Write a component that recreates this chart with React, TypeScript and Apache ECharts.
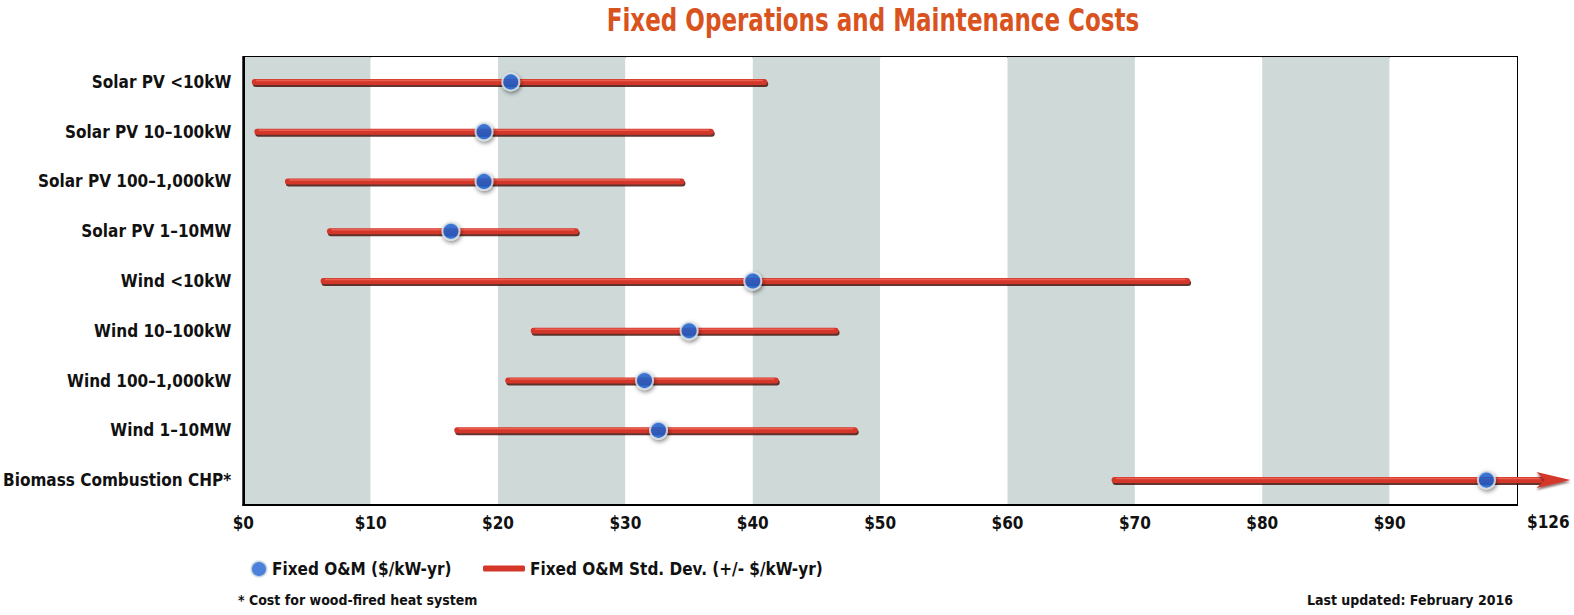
import React, { useEffect, useRef } from "react";
import * as echarts from "echarts";

const categories = [
  "Solar PV <10kW",
  "Solar PV 10–100kW",
  "Solar PV 100–1,000kW",
  "Solar PV 1–10MW",
  "Wind <10kW",
  "Wind 10–100kW",
  "Wind 100–1,000kW",
  "Wind 1–10MW",
  "Biomass Combustion CHP*",
];
const meanValues = [21.0, 18.9, 18.9, 16.3, 40.0, 35.0, 31.5, 32.6, 97.6];
const lowValues = [0.9, 1.1, 3.5, 6.8, 6.3, 22.8, 20.8, 16.8, 68.4];
const highValues = [40.9, 36.7, 34.4, 26.1, 74.1, 46.5, 41.8, 48.0, 104.2];
const arrowFlags = [0, 0, 0, 0, 0, 0, 0, 0, 1];
const xTicks = [0, 10, 20, 30, 40, 50, 60, 70, 80, 90];
const breakLabel = "$126";

const FONT = "'DejaVu Sans Condensed', 'DejaVu Sans', sans-serif";
const RED = "#d4372a";
const BLUE = "#1f62d2";

export default function App() {
  const ref = useRef<HTMLDivElement>(null);
  useEffect(() => {
    if (!ref.current) return;
    const chart = echarts.init(ref.current, null, { renderer: "svg" });
    const barData = categories.map((_, i) => [i, lowValues[i], highValues[i], arrowFlags[i]]);
    const dotData = meanValues.map((v, i) => [v, i]);
    chart.setOption({
      animation: false,
      backgroundColor: "#ffffff",
      legend: [
        {
          data: ["Fixed O&M ($/kW-yr)"],
          left: 245,
          top: 555,
          icon: "circle",
          itemWidth: 16,
          itemHeight: 16,
          textStyle: { fontFamily: FONT, fontSize: 17, fontWeight: "bold", color: "#111" },
        },
        {
          data: ["Fixed O&M Std. Dev. (+/- $/kW-yr)"],
          left: 478,
          top: 555,
          icon: "roundRect",
          itemWidth: 42,
          itemHeight: 6,
          textStyle: { fontFamily: FONT, fontSize: 17, fontWeight: "bold", color: "#111" },
        },
      ],
      grid: {
        left: 238,
        right: 57,
        top: 57,
        bottom: 110,
        show: true,
        borderColor: "#000",
        borderWidth: 2,
        backgroundColor: "transparent",
      },
      xAxis: {
        type: "value",
        min: 0,
        max: 100,
        interval: 10,
        axisLine: { show: true, lineStyle: { color: "#000", width: 2 } },
        axisTick: { show: false },
        splitLine: { show: false },
        splitArea: { show: true, areaStyle: { color: ["#cfdad8", "#ffffff"] } },
        axisLabel: {
          margin: 9,
          fontFamily: FONT,
          fontSize: 17,
          fontWeight: "bold",
          color: "#111",
          formatter: (v: number) => (xTicks.includes(v) ? "$" + v : ""),
        },
      },
      yAxis: {
        type: "category",
        data: categories,
        inverse: true,
        axisLine: { show: true, lineStyle: { color: "#000", width: 2 } },
        axisTick: { show: false },
        axisLabel: {
          margin: 12,
          fontFamily: FONT,
          fontSize: 17,
          fontWeight: "bold",
          color: "#111",
        },
      },
      graphic: [
        {
          type: "text",
          x: 873,
          y: 4,
          scaleX: 0.8,
          style: {
            text: "Fixed Operations and Maintenance Costs",
            fontFamily: FONT,
            fontSize: 32,
            fontWeight: "bold",
            fill: "#d9531e",
            align: "center",
            verticalAlign: "top",
          },
        },
        {
          type: "text",
          left: 1527,
          top: 513,
          style: { text: breakLabel, fontFamily: FONT, fontSize: 17, fontWeight: "bold", fill: "#111" },
        },
        {
          type: "text",
          left: 238,
          top: 593,
          style: {
            text: "* Cost for wood-fired heat system",
            fontFamily: FONT,
            fontSize: 14,
            fontWeight: "bold",
            fill: "#111",
          },
        },
        {
          type: "text",
          right: 61,
          top: 593,
          style: {
            text: "Last updated: February 2016",
            fontFamily: FONT,
            fontSize: 14,
            fontWeight: "bold",
            fill: "#111",
          },
        },
      ],
      series: [
        {
          name: "Fixed O&M Std. Dev. (+/- $/kW-yr)",
          type: "custom",
          z: 3,
          itemStyle: { color: RED },
          encode: { x: [1, 2], y: 0 },
          data: barData,
          renderItem: (params: any, api: any) => {
            const cat = api.value(0);
            const lo = api.coord([api.value(1), cat]);
            const hi = api.coord([api.value(2), cat]);
            const arrow = api.value(3);
            const y = lo[1];
            const lineEnd = arrow ? hi[0] - 24 : hi[0];
            const children: any[] = [
              {
                type: "line",
                shape: { x1: lo[0] + 1, y1: y + 2, x2: lineEnd + 1, y2: y + 2 },
                style: { stroke: "#4a120c", lineWidth: 6, lineCap: "round", opacity: 0.85 },
              },
              {
                type: "line",
                shape: { x1: lo[0], y1: y, x2: lineEnd, y2: y },
                style: { stroke: RED, lineWidth: 6, lineCap: "round" },
              },
              {
                type: "line",
                shape: { x1: lo[0] + 2, y1: y - 1.5, x2: lineEnd - 2, y2: y - 1.5 },
                style: { stroke: "#ee6a5c", lineWidth: 1.5, lineCap: "round", opacity: 0.8 },
              },
            ];
            if (arrow) {
              children.push({
                type: "polygon",
                shape: {
                  points: [
                    [hi[0], y],
                    [hi[0] - 34, y - 8],
                    [hi[0] - 26, y],
                    [hi[0] - 34, y + 8],
                  ],
                },
                style: {
                  fill: RED,
                  shadowColor: "rgba(60,0,0,0.6)",
                  shadowBlur: 2,
                  shadowOffsetY: 2,
                },
              });
            }
            return { type: "group", children };
          },
        },
        {
          name: "Fixed O&M ($/kW-yr)",
          type: "scatter",
          z: 5,
          symbol: "circle",
          symbolSize: 17,
          data: dotData,
          itemStyle: {
            color: BLUE,
            borderColor: "#dfe6e8",
            borderWidth: 2,
            shadowColor: "rgba(0,0,0,0.55)",
            shadowBlur: 4,
            shadowOffsetX: 1,
            shadowOffsetY: 2,
          },
        },
      ],
    });
    return () => chart.dispose();
  }, []);
  return <div ref={ref} style={{ width: 1574, height: 615, position: "absolute", left: 0, top: 0 }} />;
}
